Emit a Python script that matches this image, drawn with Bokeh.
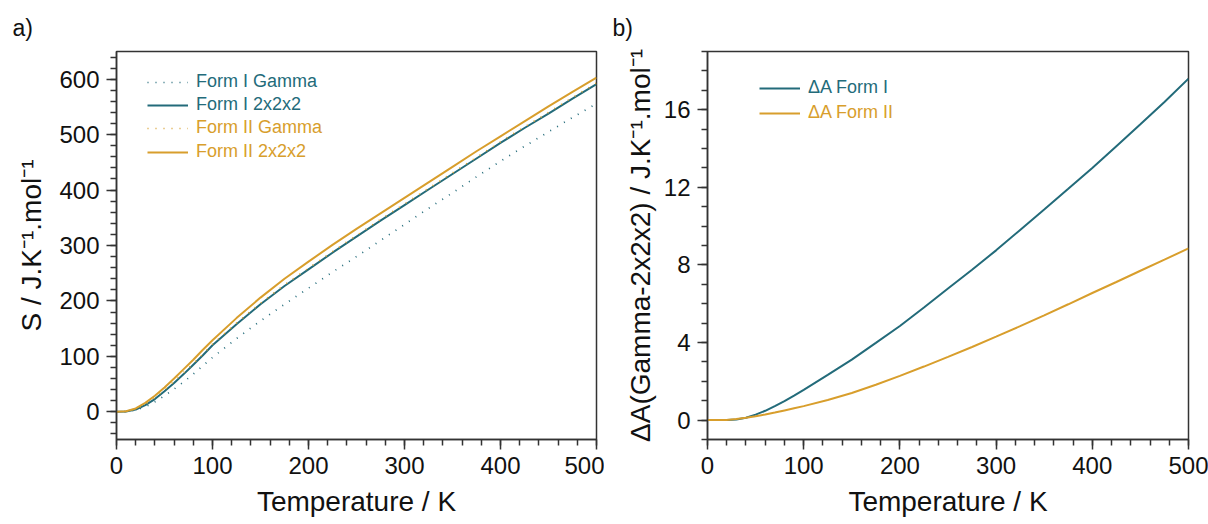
from bokeh.plotting import figure
from bokeh.layouts import row
from bokeh.models import Range1d, SingleIntervalTicker, Legend, LegendItem, Title
from bokeh.embed import file_html
from bokeh.resources import INLINE

# ---------------- data ----------------
temperature = [0, 10, 20, 30, 40, 50, 60, 70, 80, 90, 100, 125, 150, 175, 200, 225,
               250, 275, 300, 325, 350, 375, 400, 425, 450, 475, 500]

s_form1_gamma = [0, 0.4, 3, 9, 18, 29, 41, 54, 68, 83, 98, 132, 164, 194, 223, 252,
                 280, 309, 338, 367, 395, 424, 452, 479, 505, 531, 556]
s_form1_222 = [0, 0.6, 4, 12, 23, 37, 52, 68, 85, 102, 120, 158, 194, 227, 257, 287,
               316, 345, 373, 401, 429, 457, 485, 512, 538, 565, 591]
s_form2_gamma = [0, 0.8, 5, 14, 26, 40, 55, 71, 87, 104, 122, 160, 196, 229, 259, 289,
                 318, 347, 375, 403, 431, 459, 487, 514, 540, 567, 593]
s_form2_222 = [0, 1, 6, 16, 29, 44, 60, 77, 94, 112, 129, 169, 206, 240, 271, 301,
               330, 358, 386, 414, 442, 470, 497, 524, 551, 577, 603]

da_form1 = [0, 0, 0, 0.03, 0.12, 0.28, 0.48, 0.72, 0.98, 1.26, 1.56, 2.33, 3.12, 3.98,
            4.85, 5.8, 6.78, 7.75, 8.75, 9.8, 10.85, 11.92, 13.0, 14.12, 15.25, 16.4, 17.6]
da_form2 = [0, 0, 0.01, 0.06, 0.12, 0.2, 0.29, 0.39, 0.5, 0.61, 0.72, 1.04, 1.4, 1.82,
            2.28, 2.76, 3.26, 3.77, 4.3, 4.84, 5.4, 5.97, 6.55, 7.12, 7.7, 8.27, 8.85]

labels_a = ["Form I Gamma", "Form I 2x2x2", "Form II Gamma", "Form II 2x2x2"]
labels_b = ["\u0394A Form I", "\u0394A Form II"]

TEAL = "#236b7a"
GOLD = "#d89e2c"
FONT = "Liberation Sans"
AX = "#333333"


def style(p, ytick_interval, yminor):
    p.outline_line_color = AX
    p.outline_line_width = 1.5
    p.xgrid.visible = False
    p.ygrid.visible = False
    p.xaxis.ticker = SingleIntervalTicker(interval=100, num_minor_ticks=5)
    p.yaxis.ticker = SingleIntervalTicker(interval=ytick_interval, num_minor_ticks=yminor)
    for ax in (p.xaxis[0], p.yaxis[0]):
        ax.axis_line_color = AX
        ax.axis_line_width = 1.5
        ax.major_tick_line_color = AX
        ax.minor_tick_line_color = AX
        ax.major_tick_line_width = 1.5
        ax.minor_tick_line_width = 1.5
        ax.major_tick_in = 0
        ax.minor_tick_in = 0
        ax.major_tick_out = 10
        ax.minor_tick_out = 6
        ax.major_label_text_font = FONT
        ax.major_label_text_font_size = "24px"
        ax.major_label_text_color = "#111111"
        ax.major_label_standoff = 7
        ax.axis_label_text_font = FONT
        ax.axis_label_text_font_size = "28px"
        ax.axis_label_text_font_style = "normal"
        ax.axis_label_text_color = "#111111"
    p.xaxis.axis_label_standoff = 9
    p.background_fill_color = "white"
    p.border_fill_color = "white"


def add_legend(p, renderer, label, color, x, y):
    lg = Legend(items=[LegendItem(label=label, renderers=[renderer])],
                location=(x, y), padding=0, margin=0, spacing=0,
                glyph_width=41, glyph_height=20, label_height=20,
                label_standoff=8, border_line_color=None,
                background_fill_alpha=0,
                label_text_color=color, label_text_font=FONT,
                label_text_font_size="18px")
    p.add_layout(lg)


# ---------------- panel a ----------------
p1 = figure(width=604, height=524, output_backend="svg", toolbar_location=None,
            x_range=Range1d(0, 500), y_range=Range1d(-50, 650),
            min_border_left=116, min_border_right=8, min_border_top=51, min_border_bottom=85)
p1.title = Title(text="a)", align="left", offset=-104, standoff=21, text_font=FONT,
                 text_font_size="23px", text_font_style="normal", text_color="#111111")
style(p1, 100, 5)
p1.xaxis.axis_label = "Temperature / K"
p1.yaxis.axis_label = "S / J.K\u207b\u00b9.mol\u207b\u00b9"
p1.yaxis.axis_label_standoff = 9

r1 = p1.line(temperature, s_form1_gamma, line_color=TEAL, line_width=1.7, line_dash="1 7")
r2 = p1.line(temperature, s_form1_222, line_color=TEAL, line_width=2)
r3 = p1.line(temperature, s_form2_gamma, line_color=GOLD, line_width=1.7, line_dash="1 7")
r4 = p1.line(temperature, s_form2_222, line_color=GOLD, line_width=2)

row_y = [347, 324, 301, 277]
for r, lab, col, yy in zip([r1, r2, r3, r4], labels_a, [TEAL, TEAL, GOLD, GOLD], row_y):
    add_legend(p1, r, lab, col, 31, yy)

# ---------------- panel b ----------------
p2 = figure(width=604, height=524, output_backend="svg", toolbar_location=None,
            x_range=Range1d(0, 500), y_range=Range1d(-1, 19),
            min_border_left=103, min_border_right=20, min_border_top=51, min_border_bottom=85)
p2.title = Title(text="b)", align="left", offset=-95, standoff=21, text_font=FONT,
                 text_font_size="23px", text_font_style="normal", text_color="#111111")
style(p2, 4, 4)
p2.xaxis.axis_label = "Temperature / K"
p2.yaxis.axis_label = "\u0394A(Gamma-2x2x2) / J.K\u207b\u00b9.mol\u207b\u00b9"
p2.yaxis.axis_label_standoff = 5

q1 = p2.line(temperature, da_form1, line_color=TEAL, line_width=2)
q2 = p2.line(temperature, da_form2, line_color=GOLD, line_width=2)
add_legend(p2, q1, labels_b[0], TEAL, 52, 341)
add_legend(p2, q2, labels_b[1], GOLD, 52, 316)

layout = row(p1, p2)
open("out.html", "w").write(file_html(layout, INLINE))
